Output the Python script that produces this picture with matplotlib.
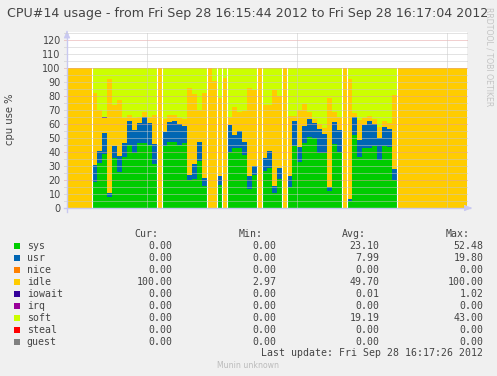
import matplotlib
matplotlib.use('Agg')
import matplotlib.pyplot as plt
from matplotlib.patches import Rectangle
import numpy as np

W, H = 497, 376

# one sample per second, 16:15:44 -> 16:17:04
sys_v = [0, 0, 0, 0, 0, 18.8, 32.4, 38.8, 8.1, 36.0,
	26.0, 36.7, 45.0, 39.5, 46.2, 46.2, 45.0, 31.4, 0, 44.3,
	47.1, 47.1, 45.0, 46.2, 20.0, 20.7, 33.8, 16.0, 0, 0,
	16.4, 0, 39.8, 43.0, 43.0, 37.9, 13.8, 23.6, 0, 26.7,
	28.8, 11.0, 20.5, 0, 15.2, 44.5, 33.0, 46.2, 50.5, 49.8,
	39.5, 39.5, 12.4, 45.7, 40.0, 0, 5.2, 52.5, 36.7, 42.6,
	42.6, 44.3, 34.3, 44.3, 43.3, 20.0, 0, 0, 0, 0,
	0, 0, 0, 0, 0, 0, 0, 0, 0, 0]
usr_v = [0, 0, 0, 0, 0, 11.9, 8.6, 14.8, 2.6, 8.3,
	11.0, 9.7, 17.4, 16.2, 14.3, 18.6, 15.5, 14.3, 0, 10.2,
	14.6, 15.3, 15.0, 12.4, 3.6, 10.7, 13.3, 5.4, 0, 0,
	6.5, 0, 19.8, 9.0, 12.0, 9.2, 9.1, 6.4, 0, 9.3,
	11.9, 5.0, 8.3, 0, 7.7, 17.9, 10.8, 12.4, 12.8, 10.7,
	16.7, 13.4, 2.8, 15.7, 15.7, 0, 1.2, 12.5, 11.9, 16.7,
	19.8, 15.7, 15.9, 13.7, 13.1, 7.9, 0, 0, 0, 0,
	0, 0, 0, 0, 0, 0, 0, 0, 0, 0]
idle_v = [100, 100, 100, 100, 100, 51.7, 29.0, 10.6, 81.2, 29.3,
	40.0, 17.6, 4.0, 8.3, 4.3, 4.0, 4.3, 20.7, 100, 8.8,
	4.5, 3.8, 4.0, 4.7, 62.4, 50.0, 22.9, 61.0, 100, 91.0,
	55.4, 93.0, 5.2, 20.0, 13.8, 22.4, 63.1, 54.3, 100, 37.6,
	32.6, 68.3, 51.2, 100, 42.8, 3.3, 26.2, 15.7, 5.5, 2.97,
	3.8, 4.1, 63.1, 7.4, 9.1, 100, 85.6, 3.0, 14.3, 4.7,
	3.0, 3.3, 7.4, 4.4, 4.1, 52.8, 100, 100, 100, 100,
	100, 100, 100, 100, 100, 100, 100, 100, 100, 100]
iowait_v = [0, 0, 0, 0, 0, 0, 0, 1.02, 0, 0,
	0, 0, 0, 0, 0, 0, 0, 0, 0, 0,
	0, 0, 0, 0, 0, 0, 0, 0, 0, 0,
	0, 0, 0, 0, 0, 0, 0, 0, 0, 0,
	0, 0, 0, 0, 0, 0, 0, 0, 0, 0,
	0, 0, 0, 0, 0, 0, 0, 0, 0, 0,
	0, 0, 0, 0, 0, 0, 0, 0, 0, 0,
	0, 0, 0, 0, 0, 0, 0, 0, 0, 0]
soft_v = [0, 0, 0, 0, 0, 17.6, 30.0, 34.8, 8.1, 26.4,
	23.0, 36.0, 33.6, 36.0, 35.2, 31.2, 35.2, 33.6, 0, 36.7,
	33.8, 33.8, 36.0, 36.7, 14.0, 18.6, 30.0, 17.6, 0, 9.0,
	21.7, 7.0, 35.2, 28.0, 31.2, 30.5, 14.0, 15.7, 0, 26.4,
	26.7, 15.7, 20.0, 0, 34.3, 34.3, 30.0, 25.7, 31.2, 36.5,
	40.0, 43.0, 21.7, 31.2, 35.2, 0, 8.0, 32.0, 37.1, 36.0,
	34.6, 36.7, 42.4, 37.6, 39.5, 19.3, 0, 0, 0, 0,
	0, 0, 0, 0, 0, 0, 0, 0, 0, 0]

legend_names = ['sys', 'usr', 'nice', 'idle', 'iowait', 'irq', 'soft', 'steal', 'guest']
legend_colors = ['#00CC00', '#0066B3', '#FF8000', '#FFCC00', '#330099', '#990099', '#CCFF00', '#FF0000', '#808080']
cur_vals = ['0.00', '0.00', '0.00', '100.00', '0.00', '0.00', '0.00', '0.00', '0.00']
min_vals = ['0.00', '0.00', '0.00', '2.97', '0.00', '0.00', '0.00', '0.00', '0.00']
avg_vals = ['23.10', '7.99', '0.00', '49.70', '0.01', '0.00', '19.19', '0.00', '0.00']
max_vals = ['52.48', '19.80', '0.00', '100.00', '1.02', '0.00', '43.00', '0.00', '0.00']

y_ticks = [0, 10, 20, 30, 40, 50, 60, 70, 80, 90, 100, 110, 120]
x_grid = [16, 46, 76]  # 16:16:00, 16:16:30, 16:17:00

TXT = '#444444'
MONO = 'DejaVu Sans Mono'


def fx(x):
	return x / W


def fy(y):
	return 1 - y / H


def ftext(x, y, s, **kw):
	kw.setdefault('color', TXT)
	kw.setdefault('va', 'center')
	fig.text(fx(x), fy(y), s, **kw)


fig = plt.figure(figsize=(W / 100, H / 100), dpi=100, facecolor='#F0F0F0')
ax = fig.add_axes([fx(67), fy(208), 400 / W, 176 / H])
ax.set_facecolor('white')
ax.set_xlim(0, 80)
ax.set_ylim(0, 176 / 1.4)
for s in ax.spines.values():
	s.set_visible(False)

# stacked step areas
n = len(sys_v)
x = np.arange(n + 1)
series = [sys_v, usr_v, idle_v, iowait_v, soft_v]
cols = ['#00CC00', '#0066B3', '#FFCC00', '#330099', '#CCFF00']
base = np.zeros(n)
for vals, c in zip(series, cols):
	top = base + np.asarray(vals, dtype=float)
	ax.fill_between(x, np.append(base, base[-1]), np.append(top, top[-1]), step='post',
		color=c, linewidth=0, zorder=2)
	base = top

# white seams where sys switches between zero and non-zero
sysa = np.asarray(sys_v)
for i in range(1, n):
	if (sysa[i] > 0) != (sysa[i - 1] > 0):
		ax.plot([i, i], [0, 100], color='white', lw=0.8, zorder=3)

# grid
for v in range(5, 126, 5):
	if v % 20 == 0:
		ax.plot([-0.6, 80], [v, v], color='#E4A0A0', lw=0.72, ls=(0, (1, 1)), zorder=4, clip_on=False)
	else:
		ax.plot([-0.6, 80], [v, v], color='#C8C8C8', lw=0.72, ls=(0, (1, 1)), zorder=4, clip_on=False)
for g in x_grid:
	ax.axvline(g, color='#C8C8C8', lw=0.72, ls=(0, (1, 1)), zorder=4)

# axes with arrows
acol = '#C8C8F0'
ax.plot([0, 0], [-2.5, 124], color=acol, lw=1, zorder=5, clip_on=False)
ax.plot([-0.6, 80.6], [0, 0], color=acol, lw=1, zorder=5, clip_on=False)
ax.annotate('', xy=(0, 129), xytext=(0, 123), annotation_clip=False,
	arrowprops=dict(arrowstyle='-|>,head_length=0.5,head_width=0.2', color=acol, lw=0.5))
ax.annotate('', xy=(81.6, 0), xytext=(80, 0), annotation_clip=False,
	arrowprops=dict(arrowstyle='-|>,head_length=0.5,head_width=0.2', color=acol, lw=0.5))

ax.set_xticks([])
ax.set_yticks(y_ticks)
ax.set_yticklabels([str(t) for t in y_ticks], fontsize=6.9, color=TXT)
ax.tick_params(axis='y', length=0, pad=4.5)

# titles
ftext(248, 14, 'CPU#14 usage - from Fri Sep 28 16:15:44 2012 to Fri Sep 28 16:17:04 2012',
	ha='center', fontsize=9.1)
ftext(10.5, 119, 'cpu use %', ha='center', rotation=90, fontsize=7.2)
ftext(489, 57, 'RRDTOOL / TOBI OETIKER', ha='center', rotation=270, fontsize=5.6, color='#C4C4C4')

# legend table
ftext(158.3, 234, 'Cur:', ha='right', family=MONO, fontsize=7.1)
ftext(262.3, 234, 'Min:', ha='right', family=MONO, fontsize=7.1)
ftext(365.7, 234, 'Avg:', ha='right', family=MONO, fontsize=7.1)
ftext(469.3, 234, 'Max:', ha='right', family=MONO, fontsize=7.1)
for k, name in enumerate(legend_names):
	yy = 245.7 + 12 * k
	fig.add_artist(Rectangle((fx(14), fy(yy + 3)), 6 / W, 6 / H, transform=fig.transFigure,
		facecolor=legend_colors[k], edgecolor='none'))
	ftext(26.7, yy, name, ha='left', family=MONO, fontsize=7.1)
	ftext(172.3, yy, cur_vals[k], ha='right', family=MONO, fontsize=7.1)
	ftext(276.3, yy, min_vals[k], ha='right', family=MONO, fontsize=7.1)
	ftext(379.3, yy, avg_vals[k], ha='right', family=MONO, fontsize=7.1)
	ftext(483.3, yy, max_vals[k], ha='right', family=MONO, fontsize=7.1)
ftext(483.3, 353.3, 'Last update: Fri Sep 28 16:17:26 2012', ha='right', family=MONO, fontsize=7.1)
ftext(248.3, 365, 'Munin unknown', ha='center', fontsize=5.6, color='#BBBBBB')

fig.savefig('out.png', dpi=100, facecolor=fig.get_facecolor())
